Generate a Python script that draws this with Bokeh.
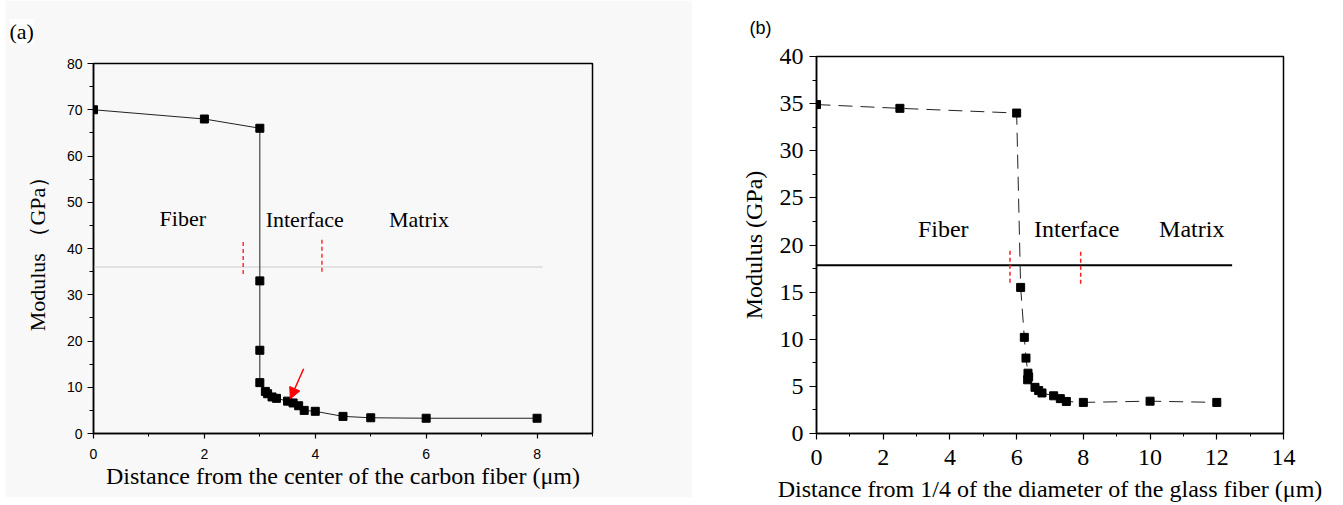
from bokeh.plotting import figure
from bokeh.layouts import row, column
from bokeh.models import SingleIntervalTicker, Range1d, Arrow, NormalHead, Spacer
from bokeh.core.properties import value
from bokeh.embed import file_html
from bokeh.resources import INLINE

# ---------------- data: panel (a) ----------------
a_x = [0, 2, 3, 3, 3, 3, 3.1, 3.14, 3.22, 3.3, 3.5, 3.6, 3.7, 3.8, 4.0, 4.5, 5.0, 6.0, 8.0]
a_y = [70, 68, 66, 33, 18, 11, 9.1, 8.6, 7.9, 7.6, 7.0, 6.6, 6.0, 5.0, 4.8, 3.7, 3.4, 3.3, 3.3]
a_regions = ["Fiber", "Interface", "Matrix"]
a_region_x = [1.61, 3.81, 5.87]
a_region_y = [46.5, 46.3, 46.3]
a_hline_y = 36
a_hline_x = [0, 8.1]
a_red_x = [2.70, 4.12]
a_red_y0 = [34.5, 35.0]
a_red_y1 = [41.6, 41.9]
a_arrow = dict(x_start=3.79, y_start=14.0, x_end=3.55, y_end=7.5)

# ---------------- data: panel (b) ----------------
b_x = [0, 2.5, 6.0, 6.12, 6.23, 6.28, 6.34, 6.36, 6.33, 6.55, 6.66, 6.76, 7.11, 7.31, 7.49, 8.0, 10.0, 12.0]
b_y = [34.9, 34.5, 34.0, 15.5, 10.2, 8.0, 6.4, 6.0, 5.7, 4.9, 4.56, 4.3, 4.0, 3.7, 3.4, 3.3, 3.43, 3.3]
b_regions = ["Fiber", "Interface", "Matrix"]
b_region_x = [3.8, 7.8, 11.25]
b_region_y = [21.7, 21.7, 21.7]
b_hline_y = 17.86
b_hline_x = [0, 12.46]
b_red_x = [5.80, 7.92]
b_red_y0 = [16.0, 15.9]
b_red_y1 = [19.6, 19.5]

GRAY = "#f8f8f8"
SERIF = "Liberation Serif"
SANS = "Liberation Sans"


def style_axes(p, tick_font, tick_size, lab_size, xi, yi):
    p.xgrid.visible = False
    p.ygrid.visible = False
    p.outline_line_color = "black"
    p.outline_line_width = 1.5
    p.xaxis.ticker = SingleIntervalTicker(interval=xi, num_minor_ticks=2)
    p.yaxis.ticker = SingleIntervalTicker(interval=yi, num_minor_ticks=2)
    for ax in (p.xaxis, p.yaxis):
        ax.axis_line_color = "black"
        ax.axis_line_width = 1.5
        ax.major_tick_line_color = "black"
        ax.minor_tick_line_color = "black"
        ax.major_tick_line_width = 1.2
        ax.minor_tick_line_width = 1
        ax.major_tick_in = 0
        ax.minor_tick_in = 0
        ax.major_label_text_font = tick_font
        ax.major_label_text_font_size = tick_size
        ax.major_label_text_color = "black"
        ax.axis_label_text_font = SERIF
        ax.axis_label_text_font_style = "normal"
        ax.axis_label_text_font_size = lab_size
        ax.axis_label_text_color = "black"


# ================= panel (a) =================
fa = figure(width=687, height=497, x_range=Range1d(0, 9), y_range=Range1d(0, 80),
            output_backend="svg", toolbar_location=None,
            min_border_left=88, min_border_right=100, min_border_top=63, min_border_bottom=64)
fa.background_fill_color = GRAY
fa.border_fill_color = GRAY
style_axes(fa, SANS, "14px", "23px", 2, 10)
fa.xaxis.major_tick_out = 5
fa.xaxis.minor_tick_out = 3
fa.yaxis.major_tick_out = 6
fa.yaxis.minor_tick_out = 4
fa.xaxis.major_label_standoff = 10
fa.yaxis.major_label_standoff = 5
fa.xaxis.axis_label = "Distance from the center of the carbon fiber (\u03bcm)"
fa.yaxis.axis_label = "Modulus \uff08GPa\uff09"
fa.xaxis.axis_label_standoff = 1
fa.yaxis.axis_label_standoff = 14
fa.xaxis.axis_label_text_font_size = "24px"
fa.yaxis.axis_label_text_font_size = "22px"

fa.title.text = "(a)"
fa.title.align = "left"
fa.title.vertical_align = "top"
fa.title.offset = -84
fa.title.standoff = 35
fa.title.text_font = SERIF
fa.title.text_font_size = "22px"
fa.title.text_font_style = "normal"
fa.title.text_color = "black"
fa.title.background_fill_color = "white"

fa.line([a_hline_x[0], a_hline_x[1]], [a_hline_y, a_hline_y], line_color="#e2e2e2", line_width=2)
fa.segment(x0=a_red_x, y0=a_red_y0, x1=a_red_x, y1=a_red_y1, line_color="#ff3030",
           line_width=1.5, line_dash="4 3")
fa.line(a_x, a_y, line_color="#222222", line_width=1)
fa.scatter(a_x, a_y, marker="square", size=8, fill_color="black", line_color="black")
fa.text(x=a_region_x, y=a_region_y, text=a_regions, text_font=value(SERIF),
        text_font_size="22px", text_align="center", text_baseline="middle", text_color="black")
fa.add_layout(Arrow(end=NormalHead(size=11, fill_color="red", line_color="red"),
                    line_color="red", line_width=1.5, **a_arrow))

# ================= panel (b) =================
fb = figure(width=651, height=505, x_range=Range1d(0, 14), y_range=Range1d(0, 40),
            output_backend="svg", toolbar_location=None,
            min_border_left=124, min_border_right=60, min_border_top=56, min_border_bottom=72)
fb.background_fill_color = "white"
fb.border_fill_color = "white"
style_axes(fb, SERIF, "24px", "24px", 2, 5)
fb.xaxis.major_tick_out = 6
fb.xaxis.minor_tick_out = 3
fb.yaxis.major_tick_out = 7
fb.yaxis.minor_tick_out = 4
fb.xaxis.major_label_standoff = 10
fb.yaxis.major_label_standoff = 6
fb.xaxis.axis_label = "Distance from 1/4 of the diameter of the glass fiber (\u03bcm)"
fb.yaxis.axis_label = "Modulus (GPa)"
fb.xaxis.axis_label_standoff = 8
fb.yaxis.axis_label_standoff = 10

fb.title.text = "(b)"
fb.title.align = "left"
fb.title.vertical_align = "top"
fb.title.offset = -67
fb.title.standoff = 33
fb.title.text_font = SANS
fb.title.text_font_size = "18px"
fb.title.text_font_style = "normal"
fb.title.text_color = "black"

fb.line([b_hline_x[0], b_hline_x[1]], [b_hline_y, b_hline_y], line_color="black", line_width=2)
fb.segment(x0=b_red_x, y0=b_red_y0, x1=b_red_x, y1=b_red_y1, line_color="#ff2020",
           line_width=1.5, line_dash="4 3")
fb.line(b_x, b_y, line_color="#222222", line_width=1, line_dash="14 8")
fb.scatter(b_x, b_y, marker="square", size=8, fill_color="black", line_color="black")
fb.text(x=b_region_x, y=b_region_y, text=b_regions, text_font=value(SERIF),
        text_font_size="24px", text_align="center", text_baseline="middle", text_color="black")

layout = row(Spacer(width=5, height=505), column(fa), column(fb))
open("out.html", "w").write(file_html(layout, INLINE))
